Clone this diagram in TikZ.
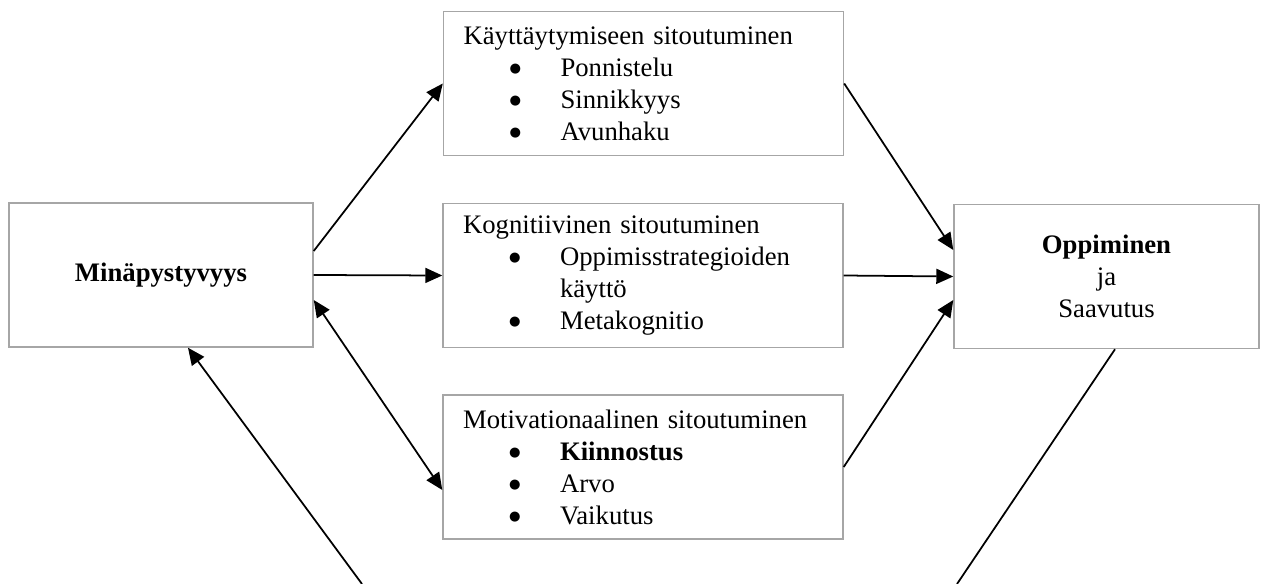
\documentclass[tikz,border=0pt]{standalone}
\usepackage{fontspec}
\setmainfont{Liberation Serif}
\newfontfamily\merkki{DejaVu Sans}
\usetikzlibrary{arrows.meta}
\newcommand{\kohta}[1]{\hspace*{0.92cm}\makebox[1.02cm][l]{\raisebox{2.2pt}{\merkki\fontsize{7.5}{9}\selectfont ●}}#1}

\begin{document}
\begin{tikzpicture}[x=0.02cm, y=-0.02cm,
    laatikko/.style={draw=gray!70, line width=0.85pt, fill=white, minimum height=2.88cm,
      inner sep=0pt, font=\fontsize{15.2}{18.2}\selectfont},
    lista/.style={laatikko, text width=7.2cm, align=left, inner xsep=0.4cm},
    linja/.style={line width=1pt},
    nuoli/.style={linja, -{Triangle[length=0.34cm,width=0.3cm]}},
    molemmat/.style={linja, {Triangle[length=0.34cm,width=0.3cm]}-{Triangle[length=0.34cm,width=0.3cm]}}]
        \useasboundingbox (0,0) rectangle (1264,584);

        % laatikot
        \node[laatikko, minimum width=6.08cm] (mina) at (161,275) {\textbf{Minäpystyvyys}};
        \node[lista] (kayt) at (643.5,83.5) {Käyttäytymiseen sitoutuminen\\
            \kohta{Ponnistelu}\\ \kohta{Sinnikkyys}\\ \kohta{Avunhaku}};
        \node[lista] (kogn) at (643,275.5) {Kognitiivinen sitoutuminen\\
            \kohta{Oppimisstrategioiden}\\ \hspace*{1.94cm}käyttö\\ \kohta{Metakognitio}};
        \node[lista] (moti) at (643,467) {Motivationaalinen sitoutuminen\\
            \kohta{\textbf{Kiinnostus}}\\ \kohta{Arvo}\\ \kohta{Vaikutus}};
        \node[laatikko, minimum width=6.1cm, align=center] (oppi) at (1106.5,276.5)
            {\textbf{Oppiminen}\\ja\\Saavutus};

        % nuolet
        \draw[nuoli] ([yshift=0.48cm]mina.east) -- (kayt.west);
        \draw[nuoli] (mina.east) -- (kogn.west);
        \draw[molemmat] ([yshift=-0.5cm]mina.east) -- ([yshift=-0.46cm]moti.west);
        \draw[nuoli] (kayt.east) -- ([yshift=0.53cm]oppi.west);
        \draw[nuoli] (kogn.east) -- (oppi.west);
        \draw[nuoli] (moti.east) -- ([yshift=-0.47cm]oppi.west);

        % takaisinkytkentä
        \coordinate (alaO) at (957,584);
        \coordinate (alaM) at (362,584);
        \draw[linja] ([xshift=0.17cm]oppi.south) -- (alaO);
        \draw[nuoli] (alaM) -- ([xshift=0.54cm]mina.south);

    \end{tikzpicture}
\end{document}
